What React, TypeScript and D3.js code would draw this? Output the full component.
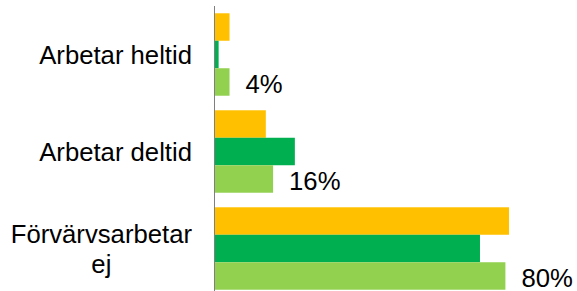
import React, { useEffect, useRef } from "react";
import * as d3 from "d3";

const categories = ["Arbetar heltid", "Arbetar deltid", "Förvärvsarbetar ej"];
const categoryLines = [["Arbetar heltid"], ["Arbetar deltid"], ["Förvärvsarbetar", "ej"]];
const seriesNames = ["Orange", "Mörkgrön", "Ljusgrön"];
const orangeValues = [4, 14, 81];
const darkGreenValues = [1, 22, 73];
const lightGreenValues = [4, 16, 80];
const valueLabels = ["4%", "16%", "80%"];
const colors = ["#FFC000", "#00B050", "#92D050"];

const W = 577;
const H = 291;
const FONT = "'Liberation Sans', Arial, sans-serif";
const FS = 25.7;

export default function App() {
  const ref = useRef<SVGSVGElement>(null);

  useEffect(() => {
    const svg = d3.select(ref.current);
    svg.selectAll("*").remove();

    const seriesValues = [orangeValues, darkGreenValues, lightGreenValues];
    const x0 = 215;
    const x = d3.scaleLinear().domain([0, 100]).range([x0, x0 + 363]);
    const y = d3
      .scaleBand<string>()
      .domain(categories)
      .range([6, 297])
      .paddingInner(0.15)
      .paddingOuter(0.075);
    const ySub = d3
      .scaleBand<string>()
      .domain(seriesNames)
      .range([0, y.bandwidth()])
      .padding(0);

    const groups = svg
      .selectAll("g.cat")
      .data(categories)
      .enter()
      .append("g")
      .attr("class", "cat")
      .attr("transform", (d) => `translate(0,${y(d)})`);

    groups.each(function (cat, ci) {
      const g = d3.select(this);
      seriesNames.forEach((s, si) => {
        const v = seriesValues[si][ci];
        g.append("rect")
          .attr("x", x(0))
          .attr("y", ySub(s)!)
          .attr("width", x(v) - x(0))
          .attr("height", ySub.bandwidth())
          .attr("fill", colors[si]);
      });
      const lv = lightGreenValues[ci];
      g.append("text")
        .attr("x", x(lv) + 16)
        .attr("y", ySub(seriesNames[2])! + ySub.bandwidth() / 2 + 10.8)
        .attr("font-family", FONT)
        .attr("font-size", FS)
        .attr("fill", "#000")
        .text(valueLabels[ci]);

      const lines = categoryLines[ci];
      const lineH = 30;
      const cy = y.bandwidth() / 2;
      const texts = lines.map((ln, li) =>
        g
          .append("text")
          .attr("font-family", FONT)
          .attr("font-size", FS)
          .attr("fill", "#000")
          .attr("text-anchor", "middle")
          .attr("y", cy + (li - (lines.length - 1) / 2) * lineH + 9.2)
          .text(ln)
      );
      const maxW = d3.max(texts, (t) => (t.node() as SVGTextElement).getComputedTextLength()) || 0;
      const right = 192;
      texts.forEach((t) => t.attr("x", right - maxW / 2));
    });

    svg
      .append("line")
      .attr("x1", 214.5)
      .attr("x2", 214.5)
      .attr("y1", 6)
      .attr("y2", 297)
      .attr("stroke", "#7f7f7f")
      .attr("stroke-width", 1);
  }, []);

  return (
    <svg
      ref={ref}
      width={W}
      height={H}
      style={{ position: "absolute", left: 0, top: 0, background: "#fff" }}
    />
  );
}
